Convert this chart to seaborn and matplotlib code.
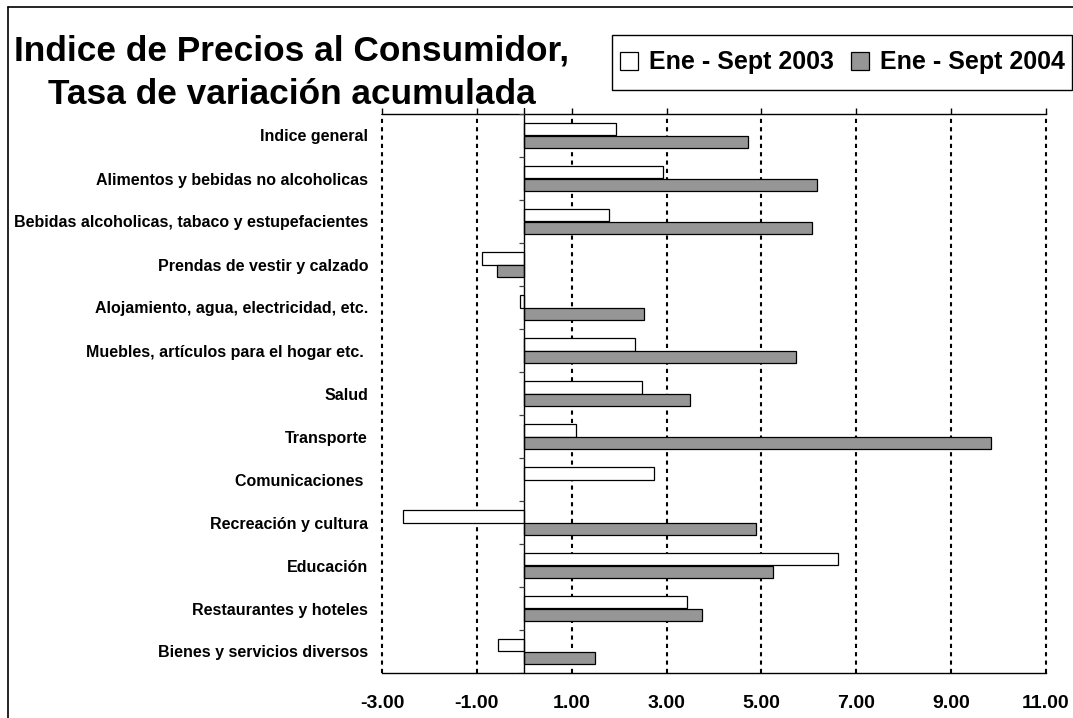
import numpy as np
import pandas as pd
import matplotlib
matplotlib.use("Agg")
import matplotlib.pyplot as plt
from matplotlib.patches import Rectangle
from matplotlib.lines import Line2D
import seaborn as sns

categories = [
    "Indice general",
    "Alimentos y bebidas no alcoholicas",
    "Bebidas alcoholicas, tabaco y estupefacientes",
    "Prendas de vestir y calzado",
    "Alojamiento, agua, electricidad, etc.",
    "Muebles, artículos para el hogar etc. ",
    "Salud",
    "Transporte",
    "Comunicaciones ",
    "Recreación y cultura",
    "Educación",
    "Restaurantes y hoteles",
    "Bienes y servicios diversos",
]
v2003 = [1.93, 2.93, 1.79, -0.90, -0.10, 2.34, 2.49, 1.10, 2.73, -2.56, 6.61, 3.43, -0.55]
v2004 = [4.72, 6.17, 6.07, -0.57, 2.52, 5.73, 3.50, 9.85, np.nan, 4.89, 5.24, 3.74, 1.49]
series_names = ["Ene - Sept 2003", "Ene - Sept 2004"]
xticks = [-3, -1, 1, 3, 5, 7, 9, 11]
title_lines = ["Indice de Precios al Consumidor,", "Tasa de variación acumulada"]

df = pd.DataFrame({
    "cat": categories * 2,
    "val": v2003 + v2004,
    "serie": [series_names[0]] * len(categories) + [series_names[1]] * len(categories),
}).dropna()

sns.set_style("white")
plt.rcParams["font.family"] = ["Liberation Sans", "DejaVu Sans"]
plt.rcParams["font.weight"] = "bold"
plt.rcParams["text.color"] = "black"
plt.rcParams["xtick.color"] = "black"
plt.rcParams["ytick.color"] = "black"
plt.rcParams["xtick.labelcolor"] = "black"
plt.rcParams["ytick.labelcolor"] = "black"

W, H = 1073, 718
fig = plt.figure(figsize=(W / 100, H / 100), dpi=100)
ax = fig.add_axes([382 / W, 1 - 673 / H, (1046 - 382) / W, (673 - 114) / H])

sns.barplot(data=df, y="cat", x="val", hue="serie", hue_order=series_names,
            order=categories, orient="h", palette=["white", "#969696"],
            edgecolor="black", linewidth=0.9, width=0.58, ax=ax, legend=True)

handles, labels = ax.get_legend_handles_labels()
if ax.get_legend() is not None:
    ax.get_legend().remove()

n = len(categories)
ax.set_xlim(xticks[0], xticks[-1])
ax.set_ylim(n - 0.5, -0.5)
ax.set_xticks(xticks)
ax.set_xticklabels([f"{t:.2f}" for t in xticks], fontsize=14, fontweight="bold", color="black")
ax.set_xlabel("")
ax.set_ylabel("")
ax.tick_params(axis="x", top=True, bottom=False, labeltop=False, labelbottom=True,
               direction="out", length=4.3, width=1, color="black", pad=11.5)
ax.tick_params(axis="y", left=False, pad=6.5, labelsize=11.5)
for lab in ax.get_yticklabels():
    lab.set_fontweight("bold")
    lab.set_color("black")

ax.grid(axis="x", color="black", linestyle=(0, (2, 2)), linewidth=1.5)
ax.grid(axis="y", visible=False)
for gl in ax.get_xgridlines():
    gl.set_clip_on(False)
ax.set_axisbelow(True)

for side in ["left", "right"]:
    ax.spines[side].set_visible(False)
for side in ["top", "bottom"]:
    ax.spines[side].set_visible(True)
    ax.spines[side].set_color("black")
    ax.spines[side].set_linewidth(1.0)

ax.axvline(0, ymin=0, ymax=1 + 6 / 559, color="black", linewidth=1.0, clip_on=False, zorder=3)
ax.hlines(np.arange(n + 1) - 0.5, -0.12, 0, color="#444444", linewidth=0.9, zorder=3)

# title
fig.text(292 / W, 1 - 60 / H, title_lines[0], ha="center", va="baseline",
         fontsize=25.4, fontweight="bold", color="black")
fig.text(292 / W, 1 - 104 / H, title_lines[1], ha="center", va="baseline",
         fontsize=25.4, fontweight="bold", color="black")

# legend box
fig.patches.append(Rectangle((611.7 / W, 1 - 90 / H), (1072 - 611.7) / W, 55 / H,
                             transform=fig.transFigure, facecolor="white",
                             edgecolor="black", linewidth=1.0, zorder=1))
leg = fig.legend(handles, labels, loc="center", bbox_to_anchor=(842.5 / W, 1 - 62.5 / H),
                 ncol=2, frameon=False, prop={"size": 18, "weight": "bold"},
                 handlelength=0.7, handleheight=0.7, handletextpad=0.45,
                 columnspacing=0.7, borderpad=0, borderaxespad=0, labelcolor="black")
leg.set_zorder(2)

# outer frame (left and top edges)
fig.add_artist(Line2D([7.5 / W, 7.5 / W], [0, 1 - 7 / H], transform=fig.transFigure,
                      color="black", linewidth=1.2))
fig.add_artist(Line2D([7.5 / W, 1], [1 - 7 / H, 1 - 7 / H], transform=fig.transFigure,
                      color="black", linewidth=1.2))

fig.savefig("out.png", dpi=100)
